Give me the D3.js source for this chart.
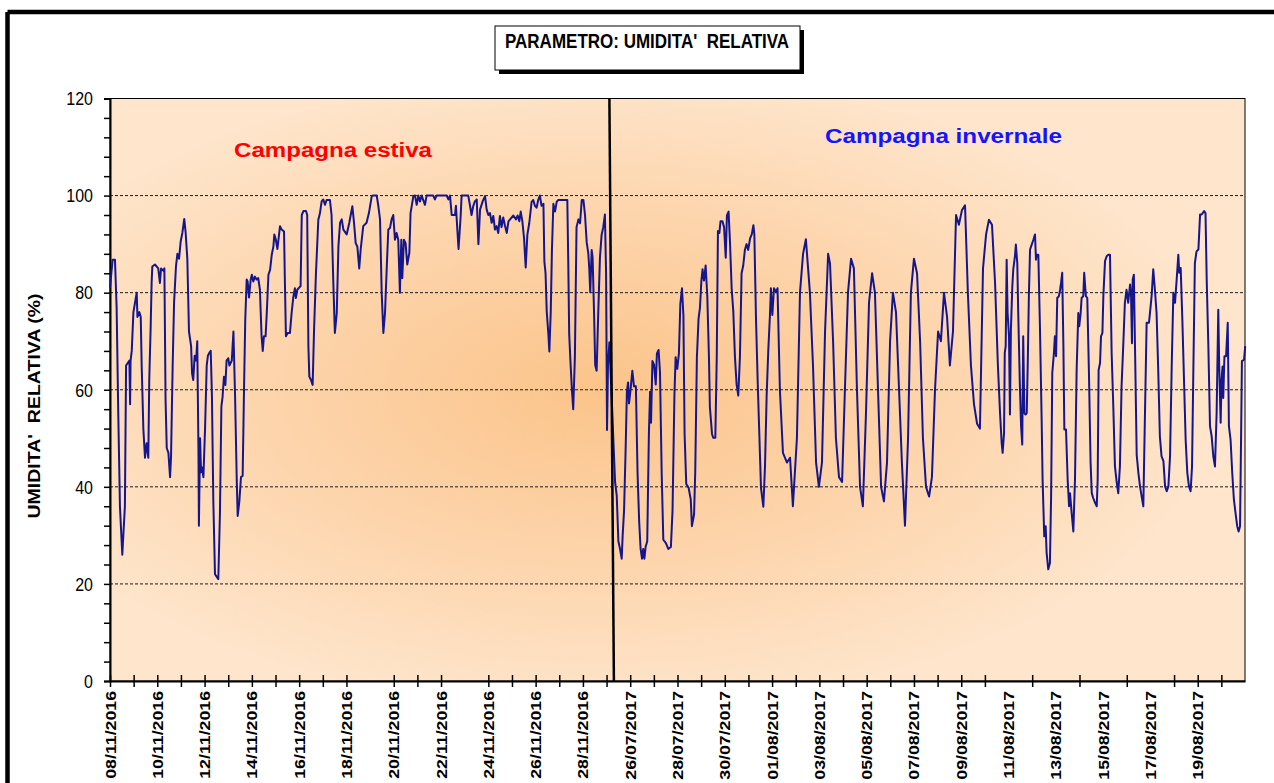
<!DOCTYPE html>
<html>
<head>
<meta charset="utf-8">
<script src="https://cdn.jsdelivr.net/npm/d3@7"></script>
<style>
  body { margin: 0; background: #fff; }
  svg { display: block; font-family: Arial, 'Liberation Sans', sans-serif; }
</style>
</head>
<body>
<svg id="chart" width="1274" height="783"></svg>
<script>
// category labels, one every two days (index = day position on the axis)
const dateLabels = [
  '08/11/2016','10/11/2016','12/11/2016','14/11/2016','16/11/2016','18/11/2016',
  '20/11/2016','22/11/2016','24/11/2016','26/11/2016','28/11/2016',
  '26/07/2017','28/07/2017','30/07/2017','01/08/2017','03/08/2017','05/08/2017',
  '07/08/2017','09/08/2017','11/08/2017','13/08/2017','15/08/2017','17/08/2017','19/08/2017'
]
const noTick = [11, 15, 38, 40, 42, 44]
const yLabels = [0, 20, 40, 60, 80, 100, 120]
const gridValues = [20, 40, 60, 80, 100]
const separator = [[21.12, 120], [21.31, 0]]

// [day position, RH %]
const estiva = [
  [0,81],[0.11,86.8],[0.21,86.8],[0.28,77],[0.35,55],[0.42,36],[0.52,26],[0.63,36],[0.68,65],[0.82,66],
  [0.85,57],[0.87,66],[0.92,68],[0.99,76],[1.06,78],[1.13,80],[1.16,75],[1.24,76],[1.30,75],[1.34,65],
  [1.41,52],[1.48,46],[1.55,49],[1.62,46],[1.66,62],[1.72,73],[1.76,82],[1.79,85.4],[1.90,85.8],[2.04,85],
  [2.11,82],[2.16,85],[2.26,84.5],[2.30,85],[2.35,58],[2.40,48],[2.47,47],[2.54,42],[2.58,46],[2.65,65],
  [2.71,78],[2.79,85.4],[2.85,88],[2.92,87],[2.99,90.6],[3.06,92.3],[3.14,95.2],[3.20,92.3],[3.27,87],[3.34,72],
  [3.43,69],[3.47,63.4],[3.52,62],[3.58,67],[3.64,66],[3.69,70],[3.74,48],[3.76,32],[3.81,50],[3.85,43],
  [3.89,44],[3.95,42],[4.02,52],[4.09,65],[4.14,67],[4.20,67.6],[4.26,68],[4.31,59],[4.37,37],[4.44,22],
  [4.51,21.5],[4.58,21],[4.65,34.6],[4.71,56.5],[4.76,58.5],[4.82,62.7],[4.88,61],[4.93,66],[5.00,66.5],[5.05,65],
  [5.15,66],[5.22,72],[5.29,58.6],[5.36,41.4],[5.40,34],[5.47,37],[5.54,42],[5.61,42.3],[5.67,60.7],[5.72,74.4],
  [5.78,82.7],[5.82,82.3],[5.88,79],[5.95,82.7],[6.00,83.7],[6.06,82.3],[6.13,83.3],[6.20,82.7],[6.27,83],[6.34,80.6],
  [6.41,71],[6.46,68],[6.51,71],[6.58,71],[6.63,75.8],[6.70,83.7],[6.77,84.7],[6.84,87.8],[6.91,89.5],[6.95,92],
  [7.01,91],[7.08,89],[7.15,92],[7.19,93.7],[7.26,93],[7.36,92.6],[7.40,81.3],[7.44,71],[7.51,71.7],[7.61,71.7],
  [7.68,75.8],[7.75,79],[7.82,80.9],[7.86,78.9],[7.92,80.6],[7.99,81],[8.06,81.3],[8.11,96],[8.18,96.8],[8.29,96.8],
  [8.34,96],[8.39,69],[8.43,62.7],[8.50,62],[8.57,61],[8.63,72.4],[8.71,84],[8.81,95],[8.88,96.4],[8.95,98.8],
  [9.02,99.2],[9.09,98.1],[9.16,99.1],[9.30,99.1],[9.37,96],[9.44,82.7],[9.51,71.7],[9.59,75.8],[9.66,89.6],[9.73,94.4],
  [9.80,95.1],[9.87,93],[10.01,92],[10.12,94.4],[10.18,96],[10.25,97.8],[10.32,94.4],[10.39,90.2],[10.46,89.5],[10.54,85],
  [10.60,88.8],[10.71,93.7],[10.85,94.4],[10.95,96.4],[11.07,99.9],[11.14,100],[11.28,100],[11.35,97.8],[11.42,95.1],[11.49,80],
  [11.56,71.7],[11.63,75.8],[11.70,84.7],[11.77,93],[11.84,93.3],[11.91,95.1],[11.98,96],[12.05,90.9],[12.12,92.3],[12.19,90.9],
  [12.26,80],[12.32,90.9],[12.36,83],[12.43,90.9],[12.50,90.2],[12.57,85.8],[12.66,88.2],[12.71,96.4],[12.83,99.9],[12.90,100],
  [12.97,98.1],[13.04,100],[13.11,98.8],[13.18,100],[13.32,98.1],[13.39,100],[13.67,100],[13.74,99.2],[13.81,100],[14.24,100],
  [14.31,99.2],[14.38,100],[14.45,96],[14.59,96],[14.63,97.9],[14.69,92.9],[14.74,89],[14.83,95.8],[14.87,100],[15.15,100],
  [15.22,98.1],[15.29,96],[15.36,97.8],[15.43,98.8],[15.51,99.2],[15.58,90],[15.65,97.1],[15.76,98.8],[15.86,99.9],[15.93,97.1],
  [16.00,96],[16.07,96.4],[16.14,94.4],[16.21,95.8],[16.28,93],[16.35,93.7],[16.42,92.3],[16.49,95.8],[16.56,93.5],[16.63,95.5],
  [16.70,93.9],[16.78,92.3],[16.85,94.7],[16.92,95.1],[17.06,95.9],[17.17,95.1],[17.24,95.9],[17.31,94.7],[17.37,96.7],[17.44,94.7],
  [17.51,91.2],[17.58,85.2],[17.65,91.9],[17.73,94.3],[17.83,98.7],[17.90,99.1],[17.97,97.9],[18.04,97.5],[18.11,99.1],[18.18,100],
  [18.25,97.9],[18.33,98.3],[18.37,86.4],[18.42,84],[18.47,76.1],[18.54,71.4],[18.58,67.9],[18.64,76.1],[18.69,88.8],[18.75,98.3],
  [18.82,96.7],[18.89,98.7],[18.96,99.1],[19.34,99.1],[19.38,86.4],[19.42,71.4],[19.48,65.1],[19.54,59.6],[19.59,56],[19.66,66.7],
  [19.73,93.5],[19.81,95.1],[19.88,94.3],[19.95,99.1],[20.02,99.1],[20.09,95.9],[20.16,90.4],[20.23,88],[20.27,84.8],[20.31,80.1],
  [20.37,88.8],[20.41,87.2],[20.47,76.1],[20.52,65.1],[20.58,63.9],[20.65,76.1],[20.72,87.2],[20.79,91.9],[20.86,93.5],[20.93,96.1],
  [20.98,84],[21.02,51.7],[21.06,65.1],[21.12,69.8]
]

const invernale = [
  [21.36,41],[21.43,38.2],[21.50,28.8],[21.57,27.2],[21.64,25.2],[21.68,29.9],[21.74,35.1],[21.81,48.5],[21.86,59.6],[21.91,61.5],
  [21.95,57.2],[22.02,60.3],[22.09,63.9],[22.16,60.7],[22.24,60.7],[22.31,43],[22.38,32.7],[22.44,27.2],[22.50,25.2],[22.55,27.2],
  [22.60,25.2],[22.65,27.6],[22.72,28.8],[22.79,50.9],[22.84,59.6],[22.88,53.2],[22.94,65.9],[23.01,65.1],[23.08,61.1],[23.13,67.5],
  [23.20,68.2],[23.26,63.5],[23.33,43],[23.40,29.1],[23.51,28.4],[23.61,27.2],[23.72,27.6],[23.79,35.1],[23.87,58.8],[23.92,66.7],
  [23.99,64.3],[24.06,67.5],[24.12,77.7],[24.19,80.9],[24.25,75.4],[24.30,50.9],[24.37,40.6],[24.47,39.8],[24.56,37.4],[24.61,31.9],
  [24.70,34.3],[24.75,43],[24.82,66.7],[24.89,74.6],[24.95,76.9],[25.01,82.5],[25.06,84.8],[25.12,82.5],[25.19,85.6],[25.26,79.3],
  [25.33,66.7],[25.37,56.4],[25.46,50.9],[25.51,50.1],[25.60,50.1],[25.66,66.7],[25.71,92.7],[25.77,92.3],[25.82,94.7],[25.90,94.7],
  [25.97,93.5],[26.04,87.2],[26.09,95.9],[26.16,96.7],[26.22,90.4],[26.29,80.9],[26.36,76.1],[26.43,66.7],[26.50,61.1],[26.57,58.8],
  [26.64,66.7],[26.71,84],[26.78,85.6],[26.85,88.8],[26.92,90],[26.99,88.8],[27.07,91.2],[27.14,92],[27.21,93.9],[27.25,92],
  [27.32,74.6],[27.39,61.9],[27.46,50.9],[27.53,39.8],[27.63,35.9],[27.70,44.2],[27.77,58.8],[27.84,68.2],[27.91,75.4],[27.95,80.9],
  [28.01,75.4],[28.08,80.9],[28.17,80.1],[28.23,80.9],[28.33,60],
  [28.46,47],[28.63,45],[28.76,46],[28.88,36],[29.05,50],[29.18,80],[29.31,88],[29.43,91],[29.60,80],[29.73,65],
  [29.86,45],[29.98,40],[30.11,45],[30.24,72],[30.37,88],[30.45,86],[30.58,70],[30.70,50],[30.83,42],[30.96,41],
  [31.08,60],[31.21,80],[31.34,87],[31.46,85],[31.59,60],[31.72,40],[31.84,36],[31.97,55],[32.10,78],[32.23,84],
  [32.35,80],[32.48,60],[32.61,40],[32.73,37],[32.86,45],[32.99,70],[33.11,80],[33.24,76],[33.37,60],[33.49,45],
  [33.62,32],[33.75,50],[33.87,80],[34.00,87],[34.13,84],[34.26,70],[34.38,50],[34.51,40],[34.64,38],[34.76,42],
  [34.89,60],[35.02,72],[35.14,70],[35.27,80],[35.40,75],[35.52,65],[35.65,72],[35.78,96],[35.90,94],[36.03,97],
  [36.16,98],[36.28,80],[36.41,65],[36.54,57],[36.67,53],[36.79,52],[36.92,85],[37.05,92],[37.17,95],[37.30,94],
  [37.43,82],[37.55,65],
  [37.64,55.2],[37.71,49],[37.75,47],[37.81,51.1],[37.84,67.6],[37.88,69],[37.92,86.8],[37.96,75.8],[38.02,71],[38.06,54.9],
  [38.10,72.4],[38.16,81.3],[38.20,84.8],[38.27,87.5],[38.31,89.9],[38.37,86.1],[38.41,75.8],[38.48,60.7],[38.53,52.5],[38.58,48.7],
  [38.62,71],[38.67,55.2],[38.72,54.9],[38.77,55.2],[38.81,64.8],[38.86,79.3],[38.91,88.9],[38.98,89.9],[39.05,90.9],[39.12,92],
  [39.16,86.8],[39.19,87.8],[39.26,87.8],[39.33,72.4],[39.40,53.8],[39.44,41.5],[39.51,29.8],[39.57,31.9],[39.61,26.4],[39.68,23],
  [39.75,24.3],[39.80,38],[39.85,63.5],[39.92,67.6],[39.96,71],[40.01,66.9],[40.06,78.9],[40.13,79.3],[40.18,80.6],[40.22,82],
  [40.27,84.1],[40.32,69],[40.36,51.8],[40.43,51.8],[40.50,41.5],[40.56,36],[40.60,38.7],[40.67,34.6],[40.74,30.8],[40.81,41.5],
  [40.88,64.1],[40.95,75.8],[40.99,73.1],[41.05,75.8],[41.09,78.9],[41.16,79.3],[41.20,84.1],[41.27,79.3],[41.33,78.9],[41.40,63.5],
  [41.47,44.9],[41.52,38.7],[41.58,37.7],[41.66,36.7],[41.73,36],[41.77,41.5],[41.81,64.1],[41.87,65.5],[41.91,71],[41.97,71.7],
  [42.01,79.3],[42.08,86.5],[42.15,87.5],[42.22,87.8],[42.29,87.8],[42.36,67.6],[42.43,56.6],[42.50,44.2],[42.57,41.1],[42.64,38.7],
  [42.71,44.2],[42.78,60.7],[42.85,69],[42.92,77.9],[42.99,80.6],[43.06,77.9],[43.14,81.7],[43.18,79.6],[43.22,69.6],[43.25,82.7],
  [43.30,83.7],[43.35,68.3],[43.42,46.6],[43.49,42.9],[43.56,40.1],[43.63,38],[43.70,36],[43.77,55.2],[43.84,73.8],[43.94,73.8],
  [43.98,75.8],[44.05,79.3],[44.12,84.8],[44.19,80.6],[44.26,75.8],[44.33,64.1],[44.40,50.4],[44.47,46.3],[44.55,45.3],[44.62,40.1],
  [44.69,39.1],[44.76,40.1],[44.83,46.3],[44.90,64.8],[44.97,80],[45.04,77.9],[45.11,82.7],[45.18,87.8],[45.22,84.1],[45.28,85.1],
  [45.35,74.5],[45.42,62.1],[45.49,49.7],[45.56,42.9],[45.63,40.1],[45.70,39.1],[45.76,44.2],[45.81,62.1],[45.88,86.1],[45.95,88.5],
  [46.03,88.9],[46.10,96.1],[46.17,96.1],[46.27,96.8],[46.33,96.4],[46.38,82.7],[46.45,69],[46.52,52.5],[46.59,50.4],[46.66,46.3],
  [46.73,44.2],[46.80,55.2],[46.87,76.5],[46.91,64.8],[46.97,53.2],[47.01,62.1],[47.05,64.8],[47.08,58.3],[47.13,66.9],[47.20,66.9],
  [47.27,73.8],[47.32,52.5],[47.39,49.7],[47.46,42.9],[47.53,37.4],[47.60,34.6],[47.67,31.9],[47.73,30.8],[47.79,31.9],[47.83,48.4],
  [47.87,65.9],[47.96,66.2],[48.01,69]
]

const margin = {top: 98.5, right: 29, bottom: 102, left: 110}
const width = 1274, height = 783
const stretch = 1.16   // text in the original is drawn a bit tall

const svg = d3.select('#chart')

// outer frame of the picture
svg.append('path')
  .attr('d', 'M7.5,12 H1290 M7.5,12 V800')
  .attr('fill', 'none').attr('stroke', '#000').attr('stroke-width', 4.5)

// title box with shadow
svg.append('rect').attr('x', 499).attr('y', 30).attr('width', 305).attr('height', 44).attr('fill', '#000')
svg.append('rect').attr('x', 495).attr('y', 26).attr('width', 305).attr('height', 44)
  .attr('fill', '#fff').attr('stroke', '#000').attr('stroke-width', 1)
svg.append('text')
  .attr('transform', `translate(505,48) scale(1,${stretch})`)
  .attr('font-size', 17).attr('font-weight', 'bold')
  .text("PARAMETRO: UMIDITA'  RELATIVA")
  .style('white-space', 'pre')

const x = d3.scaleLinear().domain([0, 48]).range([margin.left, width - margin.right])
const y = d3.scaleLinear().domain([0, 120]).range([height - margin.bottom, margin.top])

// plot area background
const grad = svg.append('defs').append('radialGradient')
  .attr('id', 'bg').attr('cx', 0.43).attr('cy', 0.5).attr('r', 0.55)
grad.append('stop').attr('offset', 0).attr('stop-color', '#fbc48a')
grad.append('stop').attr('offset', 0.55).attr('stop-color', '#fdd5ad')
grad.append('stop').attr('offset', 1).attr('stop-color', '#fee5cb')

svg.append('rect')
  .attr('x', x(0)).attr('y', y(120))
  .attr('width', x(48) - x(0)).attr('height', y(0) - y(120))
  .attr('fill', 'url(#bg)').attr('stroke', '#000').attr('stroke-width', 1)

// gridlines
svg.append('g')
  .selectAll('line')
  .data(gridValues)
  .join('line')
    .attr('x1', x(0)).attr('x2', x(48))
    .attr('y1', d => y(d)).attr('y2', d => y(d))
    .attr('stroke', '#1a1a1a').attr('stroke-width', 1)
    .attr('stroke-dasharray', '3,2')

// y axis
const yAxis = svg.append('g')
  .attr('transform', 'translate(' + x(0) + ',0)')
  .call(d3.axisLeft(y)
    .tickValues(d3.range(0, 121, 4))
    .tickSize(6)
    .tickFormat(d => yLabels.includes(d) ? d : ''))
yAxis.select('.domain').attr('stroke-width', 2)
yAxis.selectAll('.tick line').attr('stroke-width', 1.5)
yAxis.selectAll('.tick text')
  .attr('x', -17).attr('dy', '0.34em')
  .attr('transform', `scale(1,${stretch})`)
  .attr('font-size', 16).attr('font-family', null).attr('fill', '#000')

// y title
svg.append('text')
  .attr('transform', 'translate(34,406) rotate(-90)')
  .attr('text-anchor', 'middle').attr('dy', '0.35em')
  .attr('font-size', 16.5).attr('font-weight', 'bold')
  .attr('textLength', 225).attr('lengthAdjust', 'spacingAndGlyphs')
  .text("UMIDITA'  RELATIVA (%)")
  .style('white-space', 'pre')

// x axis
const tickDays = d3.range(0, 48).filter(d => !noTick.includes(d))
const xAxis = svg.append('g')
  .attr('transform', 'translate(0,' + y(0) + ')')
  .call(d3.axisBottom(x).tickValues(tickDays).tickFormat('').tickSizeOuter(0))
xAxis.select('.domain').attr('stroke-width', 2)
xAxis.selectAll('.tick line').attr('y1', -6).attr('y2', 6).attr('stroke-width', 1.5)

svg.append('g')
  .selectAll('text')
  .data(dateLabels)
  .join('text')
    .attr('transform', (d, i) => `translate(${x(i * 2)},${y(0) + 10}) scale(1,${stretch}) rotate(-90)`)
    .attr('text-anchor', 'end').attr('dy', '0.36em')
    .attr('font-size', 15.3).attr('font-weight', 'bold')
    .text(d => d)

// series
const line = d3.line().x(d => x(d[0])).y(d => y(d[1]))
svg.append('path')
  .datum(estiva.concat(invernale))
  .attr('fill', 'none')
  .attr('stroke', '#16168c')
  .attr('stroke-width', 2)
  .attr('stroke-linejoin', 'round')
  .attr('d', line)

// campaign separator
svg.append('path')
  .datum(separator)
  .attr('fill', 'none').attr('stroke', '#000').attr('stroke-width', 2.5)
  .attr('d', line)

// campaign labels
svg.append('text')
  .attr('x', 234).attr('y', 157)
  .attr('font-size', 20).attr('font-weight', 'bold').attr('fill', '#ff0000')
  .attr('textLength', 198).attr('lengthAdjust', 'spacingAndGlyphs')
  .text('Campagna estiva')
svg.append('text')
  .attr('x', 825).attr('y', 143)
  .attr('font-size', 20).attr('font-weight', 'bold').attr('fill', '#1414ff')
  .attr('textLength', 237).attr('lengthAdjust', 'spacingAndGlyphs')
  .text('Campagna invernale')
</script>
</body>
</html>
